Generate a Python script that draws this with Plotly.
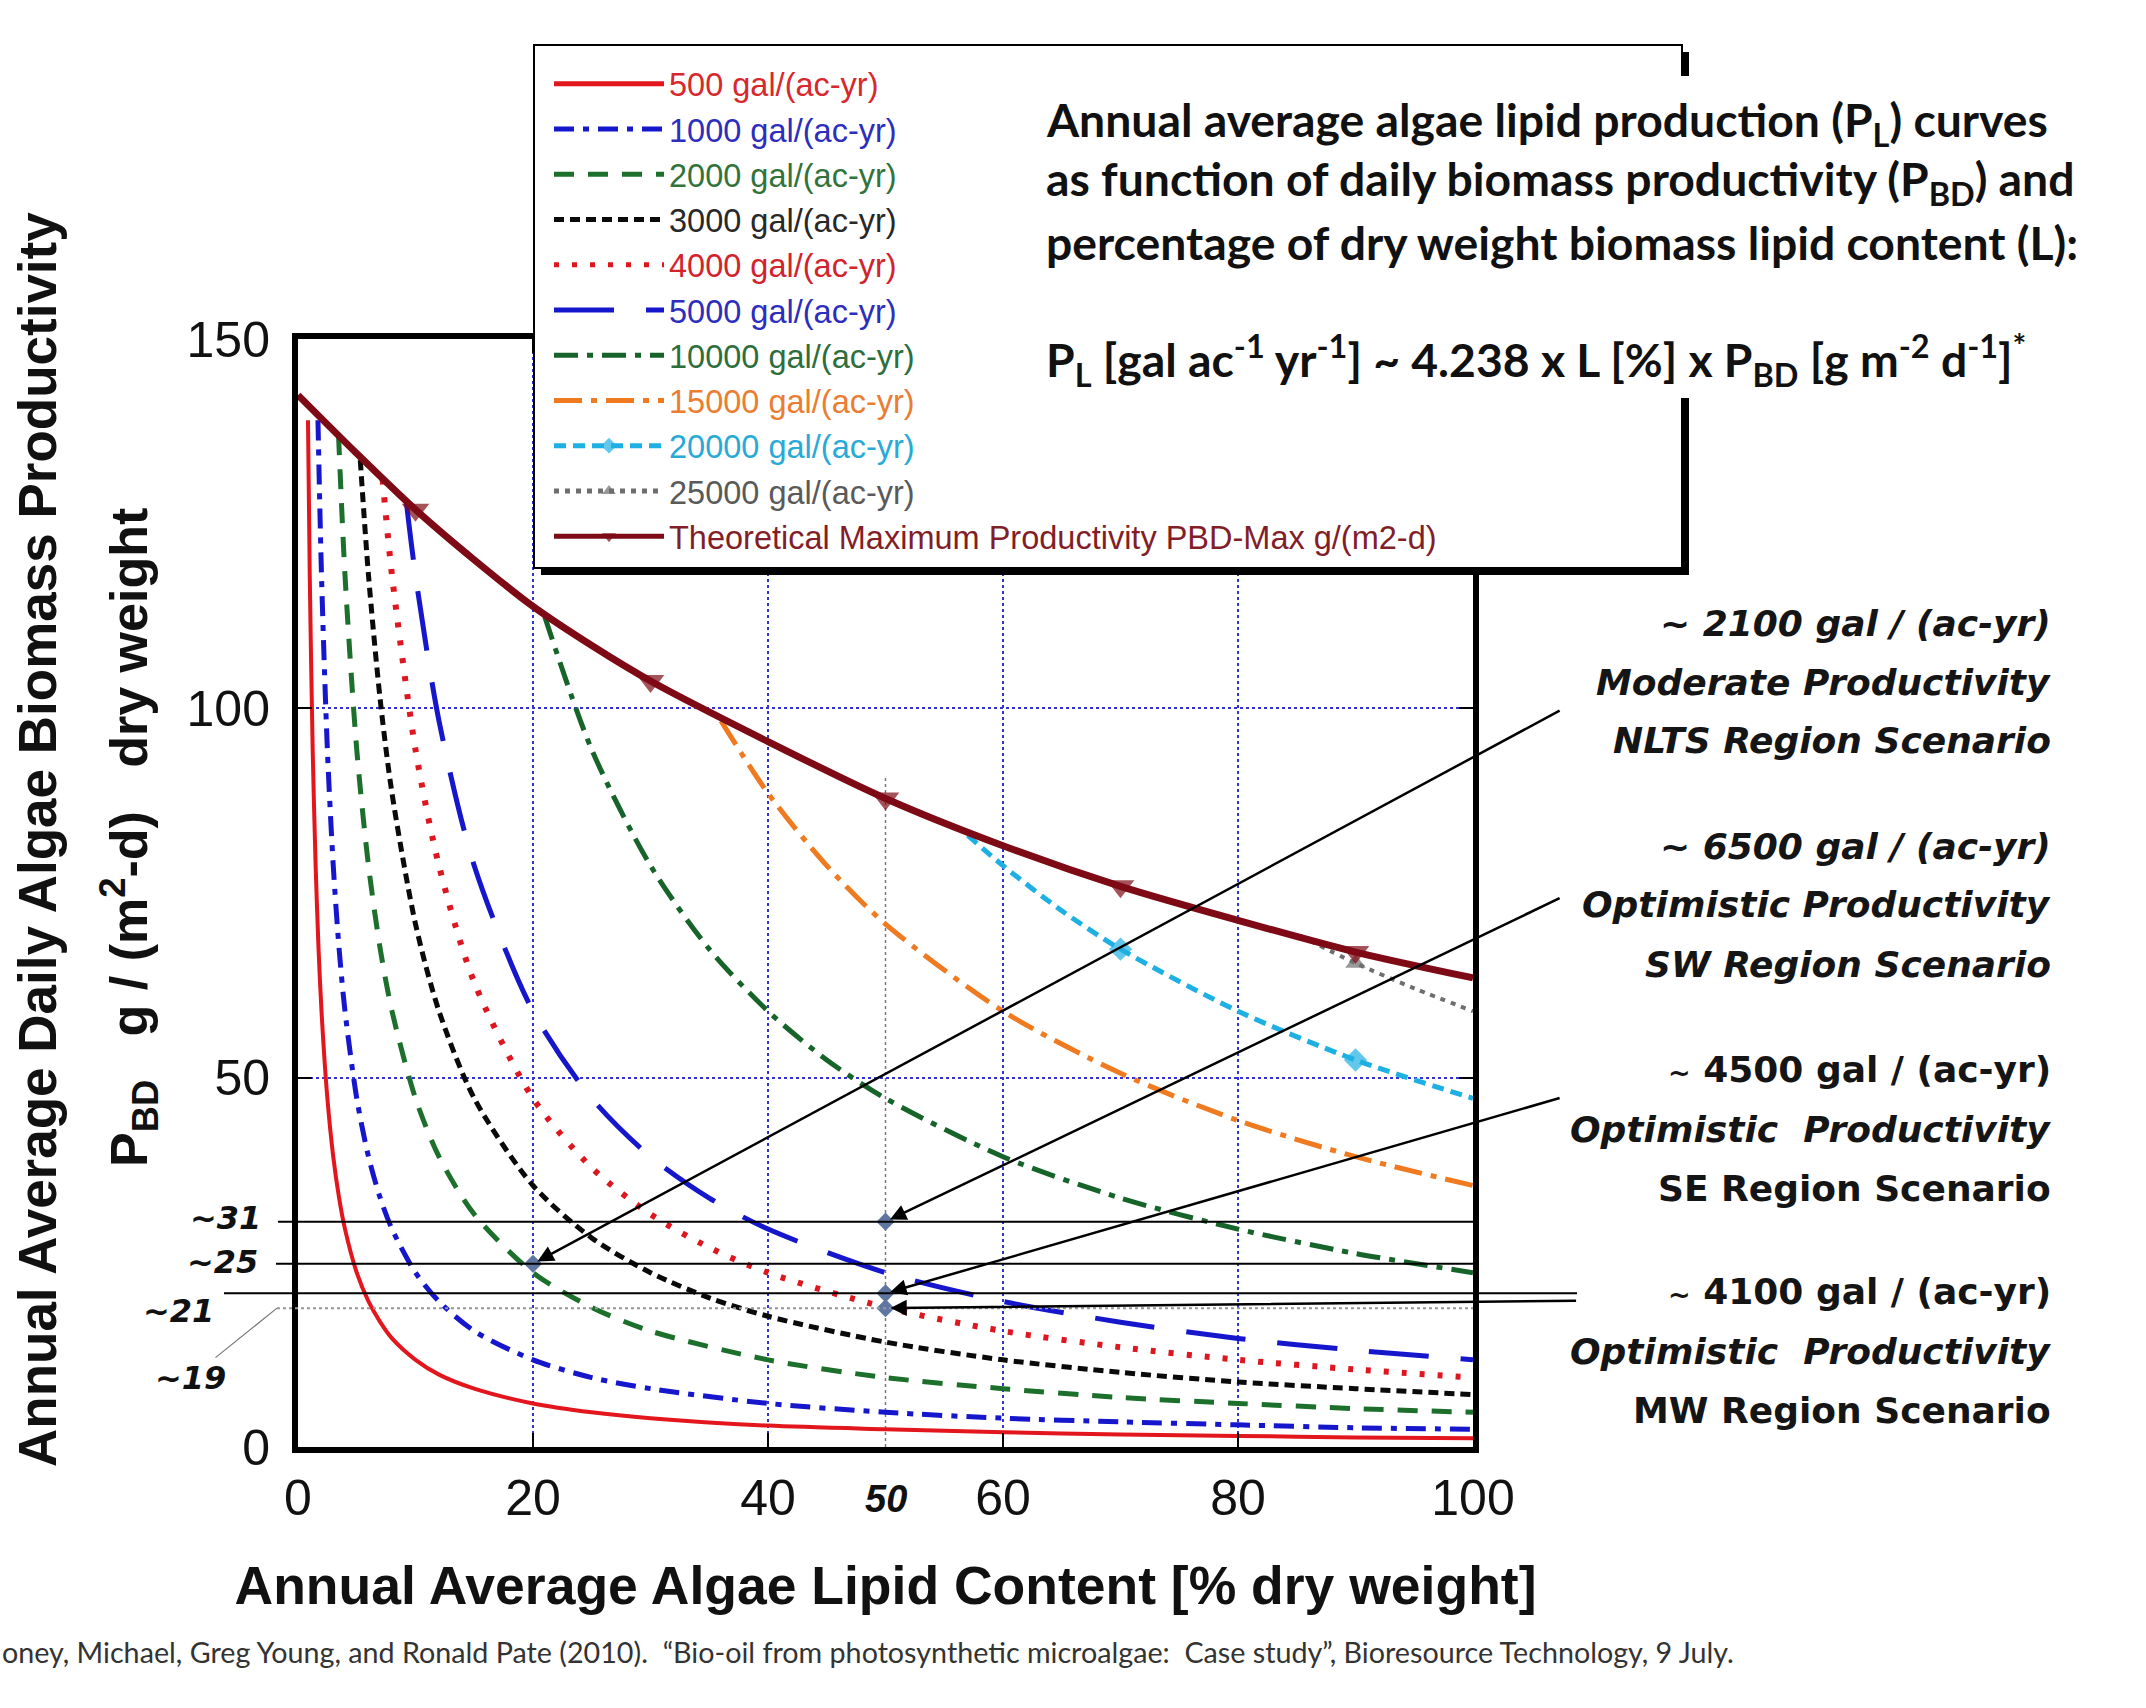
import plotly.graph_objects as go

# ------------------------------------------------------------------
# Data
# x : annual average algae lipid content L [% dry weight]
# y : annual average daily biomass productivity P_BD [g/(m2-d)]
# ------------------------------------------------------------------
L_500 = [0.85, 1, 1.25, 1.5, 1.75, 2, 2.5, 3, 3.5, 4, 5, 6, 7, 8, 10, 12, 15, 20, 25, 30, 40, 50, 60, 70, 80, 90, 100]
P_500 = [139, 118, 94.4, 78.7, 67.4, 59.0, 47.2, 39.3, 33.7, 29.5, 23.6, 19.7, 16.9, 14.7, 11.8, 9.8, 7.9, 5.9, 4.7, 3.9, 2.9, 2.4, 2.0, 1.7, 1.5, 1.3, 1.2]

L_1000 = [1.7, 2, 2.5, 3, 3.5, 4, 5, 6, 7, 8, 10, 12, 15, 20, 25, 30, 40, 50, 60, 70, 80, 90, 100]
P_1000 = [139, 118, 94.4, 78.7, 67.4, 59.0, 47.2, 39.3, 33.7, 29.5, 23.6, 19.7, 15.7, 11.8, 9.4, 7.9, 5.9, 4.7, 3.9, 3.4, 3.0, 2.6, 2.4]

L_2000 = [3.45, 4, 5, 6, 7, 8, 10, 12, 15, 20, 25, 30, 40, 50, 60, 70, 80, 90, 100]
P_2000 = [137, 118, 94.4, 78.7, 67.4, 59.0, 47.2, 39.3, 31.5, 23.6, 18.9, 15.7, 11.8, 9.4, 7.9, 6.7, 5.9, 5.2, 4.7]

L_3000 = [5.3, 6, 7, 8, 10, 12, 15, 20, 25, 30, 35, 40, 50, 60, 70, 80, 90, 100]
P_3000 = [133.6, 118, 101.1, 88.5, 70.8, 59.0, 47.2, 35.4, 28.3, 23.6, 20.2, 17.7, 14.2, 11.8, 10.1, 8.8, 7.9, 7.1]

L_4000 = [7.2, 8, 10, 12, 15, 20, 25, 30, 35, 40, 50, 60, 70, 80, 90, 100]
P_4000 = [131, 118, 94.4, 78.7, 62.9, 47.2, 37.8, 31.5, 27.0, 23.6, 18.9, 15.7, 13.5, 11.8, 10.5, 9.4]

L_5000 = [9.2, 10, 12, 15, 20, 25, 30, 35, 40, 50, 60, 70, 80, 90, 100]
P_5000 = [128.2, 118, 98.3, 78.7, 59.0, 47.2, 39.3, 33.7, 29.5, 23.6, 19.7, 16.9, 14.7, 13.1, 11.8]

L_10000 = [21, 25, 30, 35, 40, 45, 50, 60, 70, 80, 90, 100]
P_10000 = [112.4, 94.4, 78.7, 67.4, 59.0, 52.4, 47.2, 39.3, 33.7, 29.5, 26.2, 23.6]

L_15000 = [36, 40, 45, 50, 60, 70, 80, 90, 100]
P_15000 = [98.3, 88.5, 78.7, 70.8, 59.0, 50.6, 44.2, 39.3, 35.4]

L_20000 = [57, 60, 65, 70, 80, 90, 100]
P_20000 = [82.8, 78.7, 72.6, 67.4, 59.0, 52.4, 47.2]

L_25000 = [85.3, 90, 95, 100]
P_25000 = [69.2, 65.5, 62.1, 59.0]

L_MAX = [0, 5, 10, 15, 20, 25, 30, 40, 50, 60, 70, 80, 90, 100]
P_MAX = [142.4, 134.5, 126.9, 120.1, 113.8, 108.5, 103.7, 95.5, 87.8, 81.4, 75.9, 71.3, 67.0, 63.5]

# points that carry a marker symbol
MARK_20000_AT = [70, 90]
MARK_25000_AT = [90]
MARK_MAX_AT = [10, 30, 50, 70, 90]

SERIES_NAMES = ["500 gal/(ac-yr)", "1000 gal/(ac-yr)", "2000 gal/(ac-yr)", "3000 gal/(ac-yr)",
                "4000 gal/(ac-yr)", "5000 gal/(ac-yr)", "10000 gal/(ac-yr)", "15000 gal/(ac-yr)",
                "20000 gal/(ac-yr)", "25000 gal/(ac-yr)",
                "Theoretical Maximum Productivity PBD-Max g/(m2-d)"]

# regional scenarios (points marked on the curves)
SCEN_L = [20, 50, 50, 50]
SCEN_P = [24.8, 30.5, 20.8, 18.8]
SCEN_LEVEL_LABELS = ["~25", "~31", "~21", "~19"]
SCEN_TEXT = [
    ["<b><i>~ 2100 gal / (ac-yr)</i></b>", "<b><i>Moderate Productivity</i></b>", "<b><i>NLTS Region Scenario</i></b>"],
    ["<b><i>~ 6500 gal / (ac-yr)</i></b>", "<b><i>Optimistic Productivity</i></b>", "<b><i>SW Region Scenario</i></b>"],
    ["<b><span style='font-size:27px'>~</span> 4500 gal / (ac-yr)</b>", "<b><i>Optimistic\u00a0 Productivity</i></b>", "<b>SE Region Scenario</b>"],
    ["<b><span style='font-size:27px'>~</span> 4100 gal / (ac-yr)</b>", "<b><i>Optimistic\u00a0 Productivity</i></b>", "<b>MW Region Scenario</b>"],
]

X_TICKS = [0, 20, 40, 60, 80, 100]
Y_TICKS = [0, 50, 100, 150]

# ------------------------------------------------------------------
# Styling
# ------------------------------------------------------------------
ARIAL = "Liberation Sans, Arial, Helvetica, sans-serif"
VERD = "DejaVu Sans, Verdana, sans-serif"
CALI = "Lato, Carlito, Calibri, sans-serif"

W, H = 2146, 1708
PL, PR, PT, PB = 298, 1473, 339, 1447   # plot area in page pixels


def xp(px):
    return (px - PL) / (PR - PL)


def yp(py):
    return (PB - py) / (PB - PT)


STYLES = [
    dict(color="rgb(226,22,28)", dash="solid", width=4),
    dict(color="rgb(22,22,205)", dash="20px,9px,6px,9px", width=5),
    dict(color="rgb(28,112,44)", dash="20px,14px", width=5),
    dict(color="rgb(10,10,10)", dash="10px,6px", width=5),
    dict(color="rgb(222,22,32)", dash="5px,13px", width=6),
    dict(color="rgb(22,22,205)", dash="60px,32px", width=5),
    dict(color="rgb(22,100,42)", dash="24px,9px,6px,9px", width=5),
    dict(color="rgb(240,122,32)", dash="28px,9px,6px,9px", width=5),
    dict(color="rgb(30,176,226)", dash="12px,7px", width=5, symbol="diamond", msize=18, mark=MARK_20000_AT),
    dict(color="rgb(110,110,110)", dash="5px,6px", width=4, symbol="triangle-up", msize=18, mark=MARK_25000_AT),
    dict(color="rgb(125,10,20)", dash="solid", width=7, symbol="triangle-down", msize=24, mark=MARK_MAX_AT),
]
TEXT_COLORS = ["rgb(215,40,45)", "rgb(45,45,190)", "rgb(50,115,60)", "rgb(40,40,40)",
               "rgb(210,35,45)", "rgb(45,45,190)", "rgb(45,110,60)", "rgb(235,125,50)",
               "rgb(40,170,215)", "rgb(90,90,90)", "rgb(130,30,40)"]

XS = [L_500, L_1000, L_2000, L_3000, L_4000, L_5000, L_10000, L_15000, L_20000, L_25000, L_MAX]
YS = [P_500, P_1000, P_2000, P_3000, P_4000, P_5000, P_10000, P_15000, P_20000, P_25000, P_MAX]

fig = go.Figure()

for name, xs, ys, st, tc in zip(SERIES_NAMES, XS, YS, STYLES, TEXT_COLORS):
    line = dict(color=st["color"], width=st["width"], dash=st["dash"], shape="spline", smoothing=0.8)
    label = f"<span style='color:{tc}'>{name}</span>"
    if "mark" in st:
        sizes = [st["msize"] if x in st["mark"] else 0 for x in xs]
        fig.add_trace(go.Scatter(x=xs, y=ys, mode="lines+markers", name=label, line=line,
                                 marker=dict(symbol=st["symbol"], size=sizes, color=st["color"],
                                             line=dict(width=0))))
    else:
        fig.add_trace(go.Scatter(x=xs, y=ys, mode="lines", name=label, line=line))

# scenario points
fig.add_trace(go.Scatter(x=SCEN_L, y=SCEN_P, mode="markers", showlegend=False,
                         marker=dict(symbol="diamond", size=14, color="rgb(95,118,160)")))

shapes = []
# vertical guide at L = 50
shapes.append(dict(type="line", xref="x", yref="y", x0=50, x1=50, y0=0, y1=P_MAX[L_MAX.index(50)] + 3,
                   line=dict(color="rgb(120,120,120)", width=1.5, dash="dot"), layer="below"))
# horizontal scenario level lines (extend to the left of the axis)
lvl_left = [xp(276), xp(278), xp(224), xp(277)]
lvl_right = [1.0, 1.0, xp(1577), 1.0]
lvl_style = [dict(color="black", width=2), dict(color="black", width=2),
             dict(color="black", width=2), dict(color="rgb(150,150,150)", width=2, dash="dot")]
for p, x0, x1, ls in zip(SCEN_P, lvl_left, lvl_right, lvl_style):
    shapes.append(dict(type="line", xref="paper", yref="y", x0=x0, x1=x1, y0=p, y1=p, line=ls, layer="above"))

# legend box with shadow
shapes.append(dict(type="rect", xref="paper", yref="paper", x0=xp(541), x1=xp(1689), y0=yp(575), y1=yp(52),
                   fillcolor="black", line=dict(width=0), layer="above"))
shapes.append(dict(type="rect", xref="paper", yref="paper", x0=xp(534), x1=xp(1682), y0=yp(568), y1=yp(45),
                   fillcolor="white", line=dict(color="black", width=2), layer="above"))
# white background behind the formula block (breaks the right border)
shapes.append(dict(type="rect", xref="paper", yref="paper", x0=xp(1670), x1=xp(1700), y0=yp(398), y1=yp(76),
                   fillcolor="white", line=dict(width=0), layer="above"))

ann = []
# formula block
formula_lines = [
    "<b>Annual average algae lipid production (P<sub>L</sub>) curves</b>",
    "<b>as function of daily biomass productivity (P<sub>BD</sub>) and</b>",
    "<b>percentage of dry weight biomass lipid content (L):</b>",
    "<b>P<sub>L</sub> [gal ac<sup>-1</sup> yr<sup>-1</sup>] ~ 4.238 x L [%] x P<sub>BD</sub> [g m<sup>-2</sup> d<sup>-1</sup>]<sup>*</sup></b>",
]
for t, py in zip(formula_lines, [123, 182, 242, 360]):
    ann.append(dict(xref="paper", yref="paper", x=xp(1044), y=yp(py), text=t, showarrow=False,
                    xanchor="left", yanchor="middle", font=dict(family=CALI, size=46.3, color="#111")))

# scenario descriptions on the right
block_y = [[623, 682, 740], [846, 905, 964], [1069, 1129, 1188], [1291, 1351, 1410]]
for lines, ys_ in zip(SCEN_TEXT, block_y):
    for t, py in zip(lines, ys_):
        ann.append(dict(xref="paper", yref="paper", x=xp(2053), y=yp(py), text=t, showarrow=False,
                        xanchor="right", yanchor="middle", font=dict(family=VERD, size=36, color="#151515")))

# arrows from the descriptions to the scenario points
tails = [(107.5, 99.8), (107.5, 74.4), (107.5, 47.3), (108.9, 19.8)]
for (lx, pv), (tx, ty) in zip(zip(SCEN_L, SCEN_P), tails):
    ann.append(dict(xref="x", yref="y", x=lx, y=pv, axref="x", ayref="y", ax=tx, ay=ty, text="",
                    showarrow=True, arrowhead=2, arrowsize=1.3, arrowwidth=2.5, arrowcolor="black",
                    standoff=5))

# level labels left of the axis
lbl_pos = [(260, 1262), (263, 1218), (216, 1311)]
for lab, (px, py) in zip(SCEN_LEVEL_LABELS[:3], lbl_pos):
    ann.append(dict(xref="paper", yref="paper", x=xp(px), y=yp(py), text=f"<b><i>{lab}</i></b>",
                    showarrow=False, xanchor="right", yanchor="middle",
                    font=dict(family=VERD, size=32, color="#111")))
# "~19" label with a thin pointer to its dotted line
ann.append(dict(xref="paper", yref="y", x=xp(277), y=SCEN_P[3], text=f"<b><i>{SCEN_LEVEL_LABELS[3]}</i></b>",
                showarrow=True, arrowhead=0, arrowwidth=1.2, arrowcolor="rgb(120,120,120)",
                ax=-87, ay=70, font=dict(family=VERD, size=32, color="#111")))

# extra bold "50" tick label
ann.append(dict(xref="x", yref="paper", x=50, y=yp(1499), text="<b><i>50</i></b>", showarrow=False,
                xanchor="center", yanchor="middle", font=dict(family=ARIAL, size=38, color="#111")))

# y axis titles (two rotated lines)
ann.append(dict(xref="paper", yref="paper", x=xp(37), y=yp(840), textangle=-90, showarrow=False,
                xanchor="center", yanchor="middle",
                text="<b>Annual Average Daily Algae Biomass Productivity</b>",
                font=dict(family=ARIAL, size=53, color="#111")))
ann.append(dict(xref="paper", yref="paper", x=xp(129), y=yp(838), textangle=-90, showarrow=False,
                xanchor="center", yanchor="middle",
                text="<b>P<sub>BD</sub>\u00a0\u00a0\u00a0g / (m<sup>2</sup>-d)\u00a0\u00a0\u00a0dry weight</b>",
                font=dict(family=ARIAL, size=52, color="#111")))

# citation
ann.append(dict(xref="paper", yref="paper", x=xp(0), y=yp(1652), xanchor="left", yanchor="middle",
                showarrow=False,
                text="oney, Michael, Greg Young, and Ronald Pate (2010).\u00a0 \u201cBio-oil from photosynthetic "
                     "microalgae:\u00a0 Case study\u201d, Bioresource Technology, 9 July.",
                font=dict(family=CALI, size=28.7, color="#333")))

GRID = "rgb(50,50,215)"
fig.update_layout(
    width=W, height=H,
    margin=dict(l=PL, r=W - PR, t=PT, b=H - PB, autoexpand=False),
    paper_bgcolor="white", plot_bgcolor="white",
    showlegend=True,
    legend=dict(x=xp(549), y=yp(56), xanchor="left", yanchor="top", bgcolor="rgba(0,0,0,0)",
                borderwidth=0, font=dict(family=ARIAL, size=32.5), itemwidth=110,
                itemsizing="constant", tracegroupgap=0, traceorder="normal"),
    xaxis=dict(range=[0, 100], tickvals=X_TICKS, showline=True, linecolor="black", linewidth=6,
               mirror="ticks", ticks="inside", ticklen=14, tickwidth=2, tickcolor="black",
               showgrid=True, gridcolor=GRID, griddash="dot", gridwidth=2, zeroline=False,
               tickfont=dict(family=ARIAL, size=50, color="#111"), ticklabelstandoff=2,
               title=dict(text="<b>Annual Average Algae Lipid Content [% dry weight]</b>",
                          font=dict(family=ARIAL, size=53.5, color="#111"), standoff=44)),
    yaxis=dict(range=[0, 150], tickvals=Y_TICKS, showline=True, linecolor="black", linewidth=6,
               mirror="ticks", ticks="inside", ticklen=14, tickwidth=2, tickcolor="black",
               showgrid=True, gridcolor=GRID, griddash="dot", gridwidth=2, zeroline=False,
               tickfont=dict(family=ARIAL, size=50, color="#111"), ticklabelstandoff=12),
    shapes=shapes,
    annotations=ann,
)

fig.write_html("out.html")
